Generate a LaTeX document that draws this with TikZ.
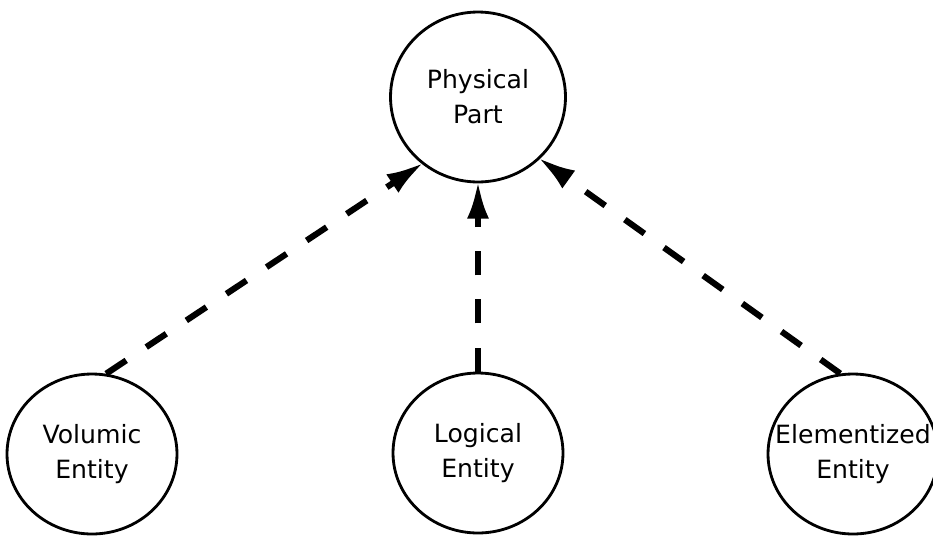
\documentclass[tikz,border=0pt]{standalone}
\usepackage{fontspec}
\setmainfont{DejaVu Sans}
\usetikzlibrary{shapes.geometric,arrows.meta}
\begin{document}
\begin{tikzpicture}[x=0.02cm, y=-0.02cm,
                    entity/.style={draw, ellipse, line width=1.6pt, inner sep=0pt,
                                   minimum width=3.4cm, minimum height=3.2cm},
                    entitytext/.style={align=center, font=\fontsize{14.3}{20}\selectfont},
                    isa/.style={line width=3.5pt, dash pattern=on 13.7pt off 13.7pt,
                                shorten >=-1.5pt,
                                -{Latex[length=21.6pt, width=12.5pt]}}]
  \useasboundingbox (0,0) rectangle (933,535);
  \node[entity, minimum width=3.5cm, minimum height=3.4cm,
        label={[entitytext]center:Physical\\Part}] (phys) at (478,97) {};
  \node[entity, label={[entitytext]center:Volumic\\Entity}] (vol) at (92,454) {};
  \node[entity, label={[entitytext]center:Logical\\Entity}] (log) at (478,453) {};
  \node[entity, label={[entitytext]center:Elementized\\Entity}] (elem) at (853,454) {};
  \draw[isa] (vol.80) -- (phys.230);
  \draw[isa] (log.north) -- (phys.south);
  \draw[isa] (elem.99) -- (phys.315);
\end{tikzpicture}
\end{document}
